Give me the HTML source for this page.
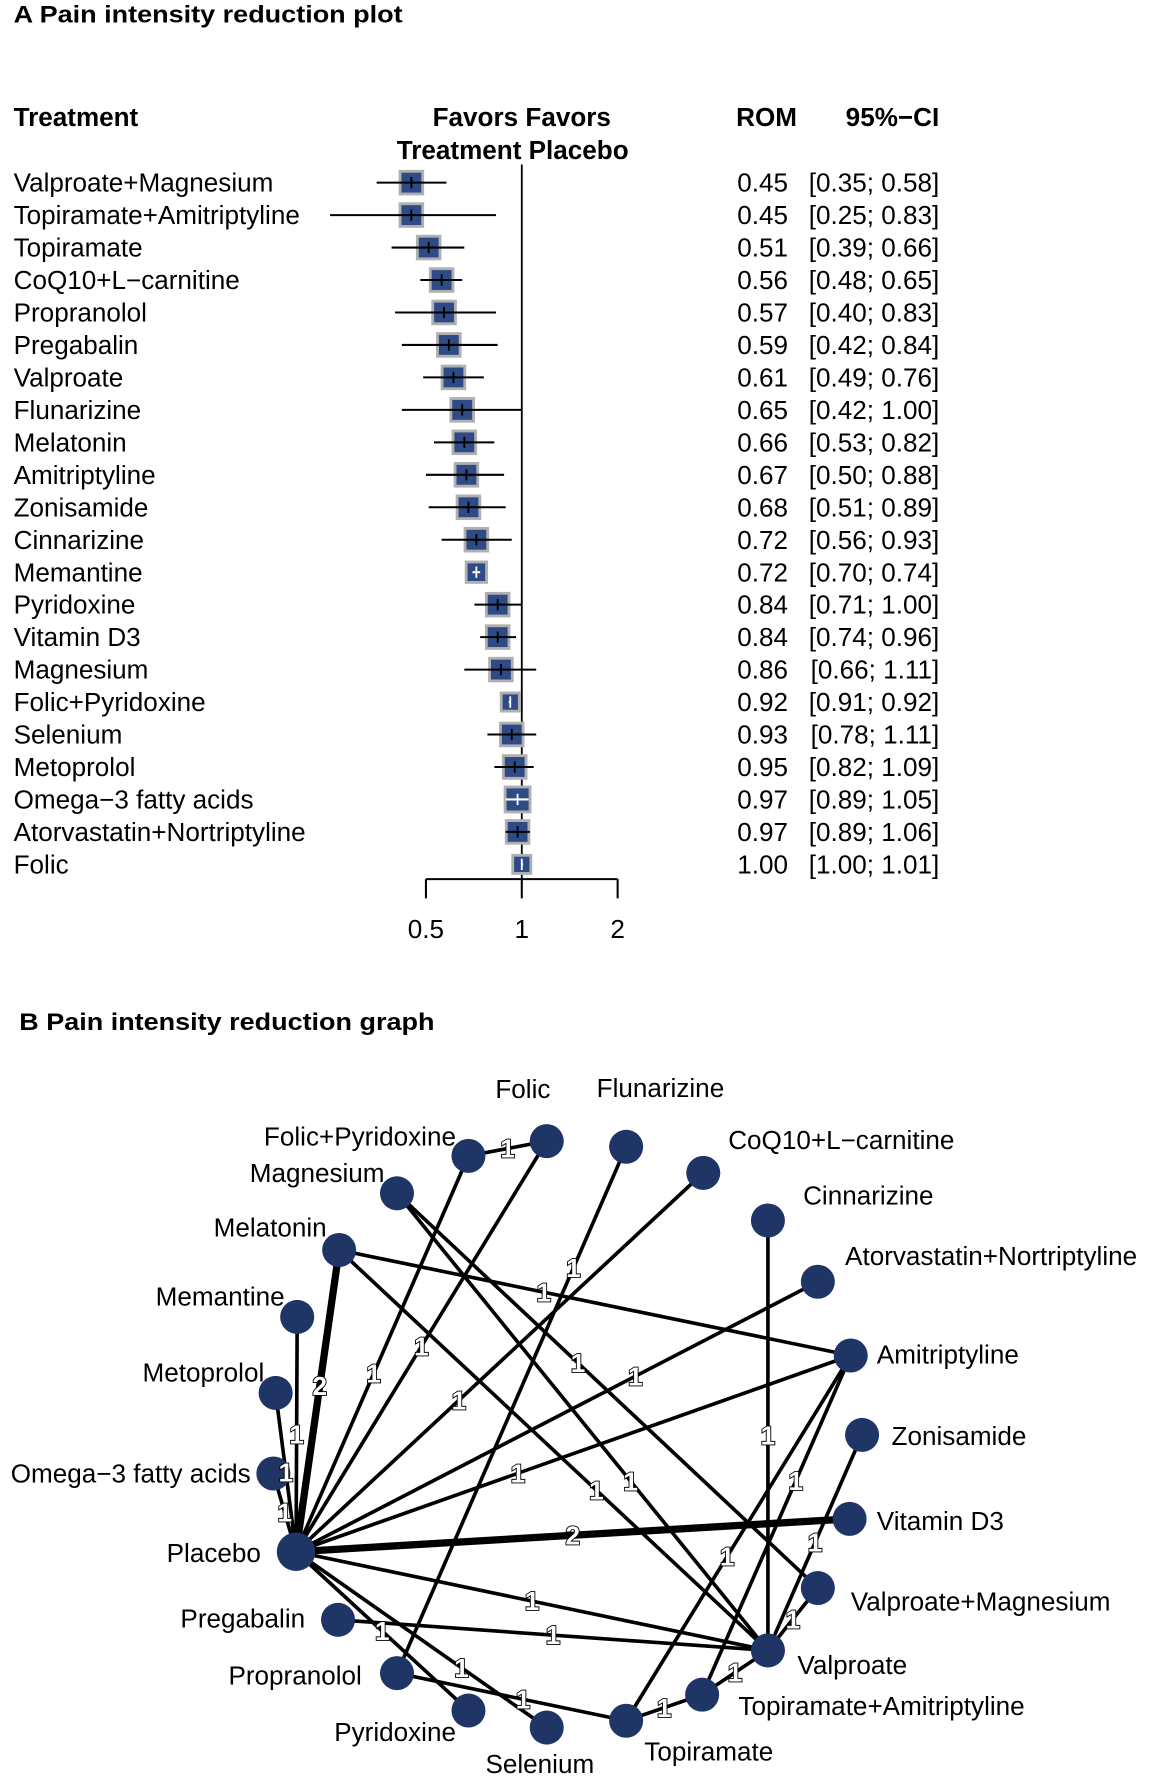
<!DOCTYPE html>
<html><head><meta charset="utf-8"><style>
html,body{margin:0;padding:0;background:#fff}
svg{display:block}
text{font-family:"Liberation Sans",Arial,sans-serif;fill:#000}
.b{font-weight:bold}
.el{fill:#fff;stroke:#000;stroke-width:1.6;paint-order:stroke;font-size:23px;font-weight:bold;text-anchor:middle}
</style></head><body>
<svg id="root" width="1157" height="1787" viewBox="0 0 1020 1575.4" preserveAspectRatio="none" xmlns="http://www.w3.org/2000/svg">
<text class="b" x="12" y="20" font-size="21" textLength="343" lengthAdjust="spacingAndGlyphs">A Pain intensity reduction plot</text>
<text class="b" x="12" y="111" font-size="23">Treatment</text>
<text class="b" x="460" y="111" font-size="23" text-anchor="middle">Favors Favors</text>
<text class="b" x="452" y="140" font-size="23" text-anchor="middle">Treatment Placebo</text>
<text class="b" x="649" y="111" font-size="23">ROM</text>
<text class="b" x="828" y="111" font-size="23" text-anchor="end">95%−CI</text>
<g id="forest"></g>
<text class="b" x="17" y="908" font-size="21" textLength="366" lengthAdjust="spacingAndGlyphs">B Pain intensity reduction graph</text>
<g id="net"></g>
</svg>
<script>
const treatments=["Valproate+Magnesium","Topiramate+Amitriptyline","Topiramate","CoQ10+L−carnitine","Propranolol","Pregabalin","Valproate","Flunarizine","Melatonin","Amitriptyline","Zonisamide","Cinnarizine","Memantine","Pyridoxine","Vitamin D3","Magnesium","Folic+Pyridoxine","Selenium","Metoprolol","Omega−3 fatty acids","Atorvastatin+Nortriptyline","Folic"];
const rom=[0.45,0.45,0.51,0.56,0.57,0.59,0.61,0.65,0.66,0.67,0.68,0.72,0.72,0.84,0.84,0.86,0.92,0.93,0.95,0.97,0.97,1.00];
const lower=[0.35,0.25,0.39,0.48,0.40,0.42,0.49,0.42,0.53,0.50,0.51,0.56,0.70,0.71,0.74,0.66,0.91,0.78,0.82,0.89,0.89,1.00];
const upper=[0.58,0.83,0.66,0.65,0.83,0.84,0.76,1.00,0.82,0.88,0.89,0.93,0.74,1.00,0.96,1.11,0.92,1.11,1.09,1.05,1.06,1.01];
const weights=[20,20,20,20,20,20,20,20,20,20,20,20,18,20,20,20,16,20,20,22,20,16];
const ticks=[0.5,1,2];
const tickLabels=["0.5","1","2"];
const NS="http://www.w3.org/2000/svg";
function mk(tag,attrs,parent){const e=document.createElementNS(NS,tag);for(const k in attrs)e.setAttribute(k,attrs[k]);parent.appendChild(e);return e;}
const xS=v=>460+84.5*Math.log2(v);
const yS=i=>161+i*28.62;
const F=document.getElementById('forest');
let ln=mk('line',{x1:460,y1:145,x2:460,y2:775,stroke:'#000','stroke-width':1.6},F);


treatments.forEach((t,i)=>{
  const y=yS(i);
  let tx=mk('text',{x:12,y:y+8,'font-size':23},F);tx.textContent=t;
  
  
  const s=weights[i],cx=xS(rom[i]);
  let sq=mk('rect',{x:cx-s/2,y:y-s/2,width:s,height:s,fill:'#2f4b85',stroke:'#b0b0b0','stroke-width':2.5},F);
  
  
  const narrow=(xS(upper[i])-xS(lower[i]))<s;
  const col=narrow?'#fff':'#000';
  let ci=mk('line',{x1:xS(lower[i]),y1:y,x2:xS(upper[i]),y2:y,stroke:col,'stroke-width':1.8},F);
  
  
  let tk=mk('line',{x1:cx,y1:y-5,x2:cx,y2:y+5,stroke:col,'stroke-width':1.6},F);
  
  
  let r=mk('text',{x:650,y:y+8,'font-size':23},F);r.textContent=rom[i].toFixed(2);
  
  
  let c=mk('text',{x:828,y:y+8,'font-size':23,'text-anchor':'end'},F);c.textContent='['+lower[i].toFixed(2)+'; '+upper[i].toFixed(2)+']';
  
  
});
let ax=mk('line',{x1:xS(ticks[0]),y1:775,x2:xS(ticks[ticks.length-1]),y2:775,stroke:'#000','stroke-width':1.8},F);


ticks.forEach((v,i)=>{
  let l=mk('line',{x1:xS(v),y1:775,x2:xS(v),y2:792,stroke:'#000','stroke-width':1.8},F);
  
  
  let t=mk('text',{x:xS(v),y:827,'font-size':23,'text-anchor':'middle'},F);t.textContent=tickLabels[i];
  
  
});
// network
const nodes=["Folic","Flunarizine","CoQ10+L−carnitine","Cinnarizine","Atorvastatin+Nortriptyline","Amitriptyline","Zonisamide","Vitamin D3","Valproate+Magnesium","Valproate","Topiramate+Amitriptyline","Topiramate","Selenium","Pyridoxine","Propranolol","Pregabalin","Placebo","Omega−3 fatty acids","Metoprolol","Memantine","Melatonin","Magnesium","Folic+Pyridoxine"];
const nodeX=[482,552,620,677,721,750,760,749,721,677,619,552,482,413,350,298,261,241,243,262,299,350,413];
const nodeY=[1006,1011,1034,1076,1130,1195,1265,1339,1400,1455,1494,1517,1523,1508,1475,1428,1368,1299,1228,1161,1102,1052,1019];
const labelX=[461,526,642,708,745,773,786,773,750,703,651,568,428,402,319,269,230,221,233,251,288,339,402];
const labelY=[968,967,1013,1062,1115,1202,1274,1349,1420,1476,1512,1552,1563,1535,1485,1435,1377,1307,1218,1151,1090,1042,1010];
const labelAnchor=["middle","start","start","start","start","start","start","start","start","start","start","start","start","end","end","end","end","end","end","end","end","end","end"];
const edgeFrom=["Folic+Pyridoxine","Folic+Pyridoxine","Folic","Flunarizine","CoQ10+L−carnitine","Cinnarizine","Atorvastatin+Nortriptyline","Amitriptyline","Amitriptyline","Amitriptyline","Amitriptyline","Zonisamide","Vitamin D3","Magnesium","Magnesium","Melatonin","Melatonin","Memantine","Metoprolol","Omega−3 fatty acids","Pregabalin","Placebo","Placebo","Placebo","Propranolol","Topiramate","Topiramate+Amitriptyline","Valproate+Magnesium"];
const edgeTo=["Folic","Placebo","Placebo","Propranolol","Placebo","Valproate","Placebo","Melatonin","Placebo","Topiramate","Topiramate+Amitriptyline","Valproate","Placebo","Valproate+Magnesium","Valproate","Placebo","Valproate","Placebo","Placebo","Placebo","Valproate","Valproate","Pyridoxine","Selenium","Topiramate","Topiramate+Amitriptyline","Valproate","Valproate"];
const edgeN=[1,1,1,1,1,1,1,1,1,1,1,1,2,1,1,2,1,1,1,1,1,1,1,1,1,1,1,1];
const edgeT=[0.5,0.55,0.5,0.23,0.6,0.5,0.35,0.6,0.6,0.55,0.37,0.5,0.5,0.43,0.63,0.45,0.6,0.5,0.5,0.5,0.5,0.5,0.5,0.66,0.55,0.5,0.5,0.5];
const G=document.getElementById('net');
const idx=n=>nodes.indexOf(n);
const eg=mk('g',{},G);
edgeFrom.forEach((f,i)=>{
  const a=idx(f),b=idx(edgeTo[i]);
  let l=mk('line',{x1:nodeX[a],y1:nodeY[a],x2:nodeX[b],y2:nodeY[b],stroke:'#000','stroke-width':edgeN[i]*3.2},eg);
  
  
});
nodes.forEach((n,i)=>{
  let c=mk('circle',{cx:nodeX[i],cy:nodeY[i],r:n==="Placebo"?17:15,fill:'#1f3566'},G);
  
  
  let t=mk('text',{x:labelX[i],y:labelY[i],'font-size':23,'text-anchor':labelAnchor[i]},G);t.textContent=n;
  
  
});
edgeFrom.forEach((f,i)=>{
  const a=idx(f),b=idx(edgeTo[i]),t=edgeT[i];
  const x=nodeX[a]+(nodeX[b]-nodeX[a])*t,y=nodeY[a]+(nodeY[b]-nodeY[a])*t;
  let e=mk('text',{x:x,y:y+8,class:'el'},G);e.textContent=edgeN[i];
  
  
});
</script>
</body></html>
